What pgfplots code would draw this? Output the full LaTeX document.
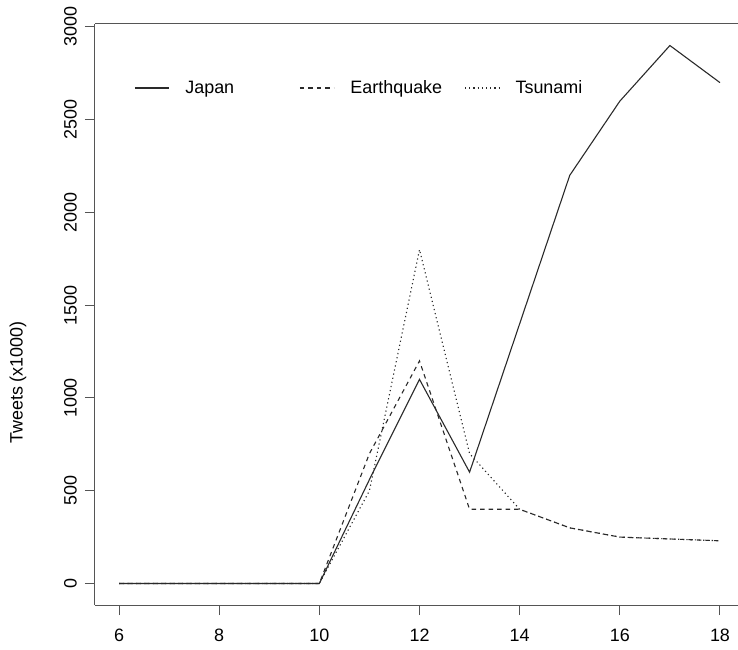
\documentclass[border=0pt]{standalone}
\usepackage{pgfplots}
\pgfplotsset{compat=1.18}
\usepackage{fontspec}
\setmainfont{Liberation Sans}
\definecolor{ink}{HTML}{2A2A2A}
\definecolor{frame}{HTML}{555555}

\pgfplotstableread{
hour japan quake tsunami
6    0     0     0
7    0     0     0
8    0     0     0
9    0     0     0
10   0     0     0
11   560   700   500
12   1100  1200  1800
13   600   400   700
14   1400  400   400
15   2200  300   300
16   2600  250   250
17   2900  240   240
18   2700  230   230
}\tweets

\begin{document}
\begin{tikzpicture}
\begin{axis}[
    scale only axis,
    width=643bp, height=581bp,
    xmin=5.52, xmax=18.36,
    ymin=-116, ymax=3016,
    axis x line=box, axis y line=left,
    axis line style={frame, line width=1bp, -},
    xtick={6,8,...,18}, ytick={0,500,...,3000},
    xtick pos=lower, ytick pos=left,
    tick align=outside, major tick length=10bp,
    tick style={frame, line width=1bp},
    font=\fontsize{18}{21}\selectfont,
    /pgf/number format/assume math mode=true,
    /pgf/number format/1000 sep={},
    yticklabel style={rotate=90, anchor=south, inner sep=0pt, yshift=8bp},
    xticklabel style={inner sep=0pt, anchor=north, yshift=-14bp},
    ylabel={Tweets (x1000)},
    ylabel style={at={(rel axis cs:0,0.5)}, anchor=center, rotate=0, xshift=-68bp, yshift=77bp, inner sep=0pt},
    legend columns=3,
    legend style={draw=none, fill=none, at={(axis cs:6.30,2671)}, anchor=west,
        inner sep=0pt, nodes={inner sep=0pt},
        /tikz/every odd column/.append style={column sep=16bp},
        /tikz/every even column/.append style={column sep=18bp},
        font=\fontsize{18}{21}\selectfont},
    legend image code/.code={\draw[#1] (0bp,0bp) -- (34bp,0bp);},
    every axis plot/.append style={ink, line width=1.1bp},
]
\coordinate (sw) at (rel axis cs:0,0);
\coordinate (ne) at (rel axis cs:1,1);
\addplot[solid] table[x=hour, y=japan] {\tweets};
\addlegendentry{\makebox[96bp][l]{Japan}}
\addplot[dash pattern=on 4.5bp off 4bp] table[x=hour, y=quake] {\tweets};
\addlegendentry{\makebox[96bp][l]{Earthquake}}
\addplot[dash pattern=on 1.2bp off 3bp] table[x=hour, y=tsunami] {\tweets};
\addlegendentry{\makebox[96bp][l]{Tsunami}}
\end{axis}
\pgfresetboundingbox
\path ([xshift=-95bp, yshift=-45bp]sw) rectangle ([yshift=24bp]ne);
\end{tikzpicture}
\end{document}
